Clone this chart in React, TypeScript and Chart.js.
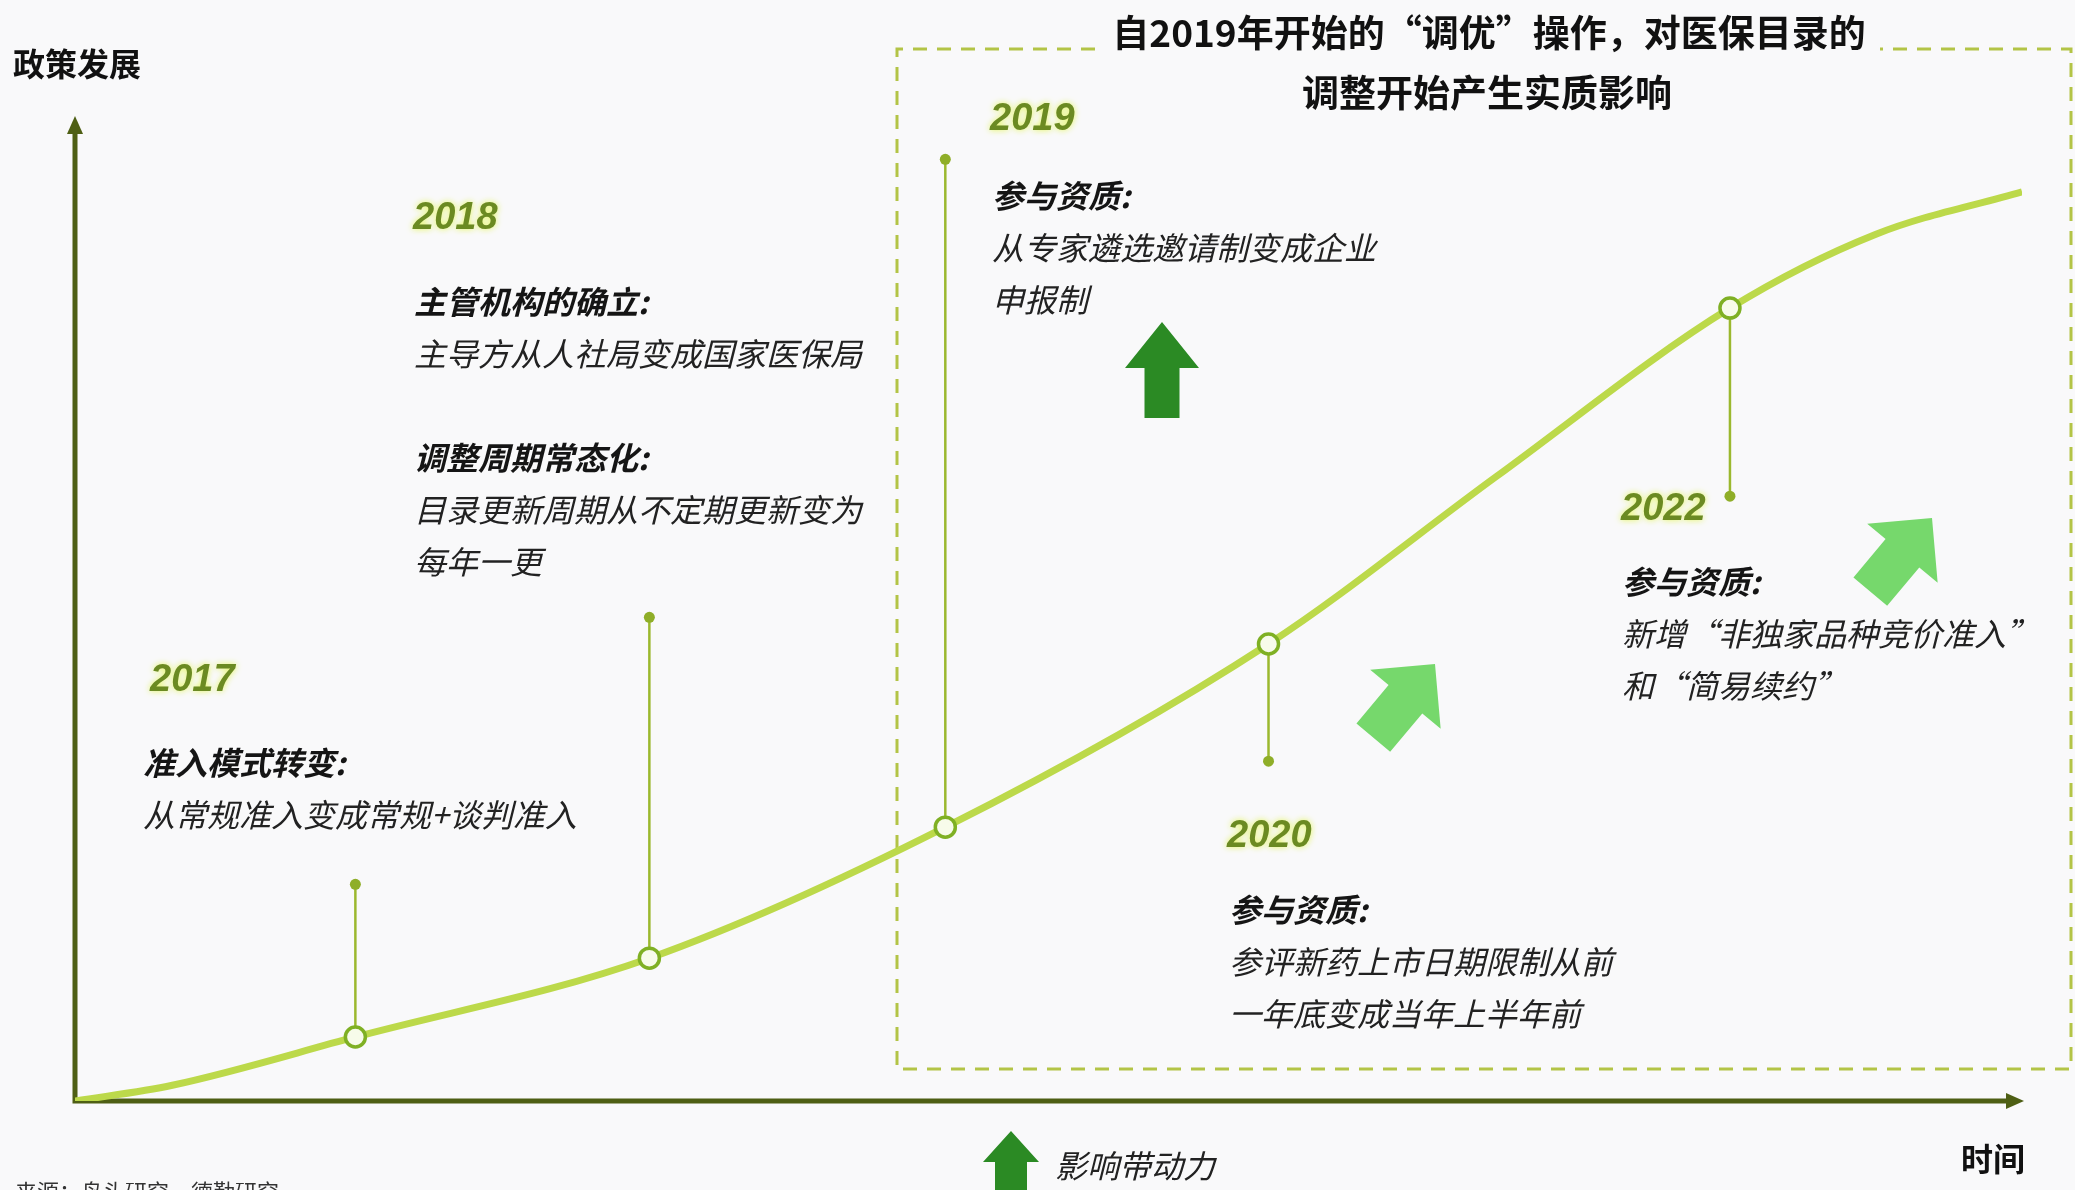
import { useEffect, useRef } from 'react';
import { Chart, registerables } from 'chart.js';

Chart.register(...registerables);

const W = 2075;
const H = 1190;

// Policy-development curve: time index (0-100) vs development index (0-100)
const curveX = [0, 5.0, 14.4, 29.5, 44.7, 61.3, 73.0, 85.0, 92.5, 100];
const curveY = [0, 1.6, 6.5, 14.5, 27.8, 46.4, 63.4, 80.5, 88.0, 92.3];

// Milestones
const eventYears = ['2017', '2018', '2019', '2020', '2022'];
const eventIndex = [2, 3, 4, 5, 7];
const stemEndY = [22.0, 49.1, 95.6, 34.5, 61.4];

const eventHeadings = [
  ['准入模式转变:'],
  ['主管机构的确立:', '调整周期常态化:'],
  ['参与资质:'],
  ['参与资质:'],
  ['参与资质:'],
];
const eventBodies = [
  [['从常规准入变成常规+谈判准入']],
  [['主导方从人社局变成国家医保局'], ['目录更新周期从不定期更新变为', '每年一更']],
  [['从专家遴选邀请制变成企业', '申报制']],
  [['参评新药上市日期限制从前', '一年底变成当年上半年前']],
  [['新增“非独家品种竞价准入”', '和“简易续约”']],
];

const yAxisTitle = '政策发展';
const xAxisTitle = '时间';
const boxTitle = ['自2019年开始的“调优”操作，对医保目录的', '调整开始产生实质影响'];
const legendLabel = '影响带动力';
const sourceNote = '来源：鸟头研究，德勤研究';

const CJK = "'Noto Sans CJK SC', 'Noto Sans', sans-serif";

function drawArrow(
  ctx: CanvasRenderingContext2D,
  tipX: number,
  tipY: number,
  angleDeg: number,
  total: number,
  headL: number,
  headW: number,
  shaftW: number,
  color: string
) {
  ctx.save();
  ctx.translate(tipX, tipY);
  ctx.rotate((angleDeg * Math.PI) / 180);
  ctx.beginPath();
  ctx.moveTo(0, 0);
  ctx.lineTo(headW / 2, headL);
  ctx.lineTo(shaftW / 2, headL);
  ctx.lineTo(shaftW / 2, total);
  ctx.lineTo(-shaftW / 2, total);
  ctx.lineTo(-shaftW / 2, headL);
  ctx.lineTo(-headW / 2, headL);
  ctx.closePath();
  ctx.fillStyle = color;
  ctx.fill();
  ctx.restore();
}

const decorPlugin = {
  id: 'decor',
  beforeDraw(chart: any) {
    const ctx: CanvasRenderingContext2D = chart.ctx;
    const a = chart.chartArea;
    ctx.save();
    ctx.fillStyle = '#f9f9fa';
    ctx.fillRect(0, 0, chart.width, chart.height);

    // dashed region box
    ctx.strokeStyle = '#b3c446';
    ctx.lineWidth = 3;
    ctx.setLineDash([14, 10]);
    const bl = 897, bt = 49, br = 2071, bb = 1069;
    ctx.beginPath();
    ctx.moveTo(1095, bt);
    ctx.lineTo(bl, bt);
    ctx.lineTo(bl, bb);
    ctx.lineTo(br, bb);
    ctx.lineTo(br, bt);
    ctx.lineTo(1880, bt);
    ctx.stroke();
    ctx.setLineDash([]);

    // axes
    ctx.strokeStyle = '#4e5f14';
    ctx.fillStyle = '#4e5f14';
    ctx.lineWidth = 5;
    ctx.beginPath();
    ctx.moveTo(a.left, a.top + 14);
    ctx.lineTo(a.left, a.bottom);
    ctx.lineTo(a.right - 14, a.bottom);
    ctx.stroke();
    ctx.beginPath();
    ctx.moveTo(a.left, a.top);
    ctx.lineTo(a.left - 8, a.top + 18);
    ctx.lineTo(a.left + 8, a.top + 18);
    ctx.closePath();
    ctx.fill();
    ctx.beginPath();
    ctx.moveTo(a.right + 2, a.bottom);
    ctx.lineTo(a.right - 16, a.bottom - 8);
    ctx.lineTo(a.right - 16, a.bottom + 8);
    ctx.closePath();
    ctx.fill();
    ctx.restore();
  },
  afterDatasetsDraw(chart: any) {
    const ctx: CanvasRenderingContext2D = chart.ctx;
    ctx.save();
    ctx.textBaseline = 'middle';

    // axis titles
    ctx.fillStyle = '#111';
    ctx.font = `bold 32px ${CJK}`;
    ctx.textAlign = 'left';
    ctx.fillText(yAxisTitle, 13, 64);
    ctx.textAlign = 'right';
    ctx.fillText(xAxisTitle, 2025, 1159);

    // box title
    ctx.textAlign = 'center';
    ctx.font = `bold 37px ${CJK}`;
    ctx.fillText(boxTitle[0], 1489, 33);
    ctx.fillText(boxTitle[1], 1487, 93);

    // milestone texts
    const layout = [
      { yx: 150, yy: 681, tx: 143, hy: 763 },
      { yx: 413, yy: 219, tx: 414, hy: 302 },
      { yx: 990, yy: 120, tx: 992, hy: 196 },
      { yx: 1227, yy: 837, tx: 1229, hy: 910 },
      { yx: 1621, yy: 510, tx: 1622, hy: 582 },
    ];
    ctx.textAlign = 'left';
    eventYears.forEach((yr, i) => {
      const L = layout[i];
      ctx.save();
      ctx.font = "italic bold 38px 'Liberation Sans', sans-serif";
      ctx.fillStyle = '#6b8a22';
      ctx.shadowColor = 'rgba(225,245,80,0.95)';
      ctx.shadowBlur = 6;
      ctx.fillText(yr, L.yx, L.yy);
      ctx.restore();
      let y = L.hy;
      eventHeadings[i].forEach((h, k) => {
        ctx.font = `italic bold 32px ${CJK}`;
        ctx.fillStyle = '#151515';
        ctx.fillText(h, L.tx, y);
        y += 52;
        ctx.font = `italic 32px ${CJK}`;
        ctx.fillStyle = '#222';
        eventBodies[i][k].forEach((line) => {
          ctx.fillText(line, L.tx, y);
          y += 52;
        });
        y += 52;
      });
    });

    // arrows
    drawArrow(ctx, 1162, 322, 0, 96, 46, 74, 35, '#2b8a24');
    drawArrow(ctx, 1011, 1131, 0, 70, 31, 56, 32, '#2b8a24');
    drawArrow(ctx, 1435, 664, 40, 96, 46, 92, 44, '#76d86c');
    drawArrow(ctx, 1932, 518, 40, 96, 46, 92, 44, '#76d86c');

    // legend label
    ctx.font = `italic 32px ${CJK}`;
    ctx.fillStyle = '#222';
    ctx.fillText(legendLabel, 1055, 1166);

    // source (cut off at bottom)
    ctx.font = `22px ${CJK}`;
    ctx.fillStyle = '#333';
    ctx.textBaseline = 'top';
    ctx.fillText(sourceNote, 15, 1181);
    ctx.restore();
  },
};

export default function App() {
  const ref = useRef<HTMLCanvasElement | null>(null);
  useEffect(() => {
    if (!ref.current) return;
    const curve = curveX.map((x, i) => ({ x, y: curveY[i] }));
    const markers = eventIndex.map((idx) => ({ x: curveX[idx], y: curveY[idx] }));
    const stems = eventIndex.map((idx, i) => ({
      type: 'line' as const,
      data: [
        { x: curveX[idx], y: curveY[idx] },
        { x: curveX[idx], y: stemEndY[i] },
      ],
      borderColor: '#9bb82e',
      borderWidth: 2.5,
      pointRadius: [0, 5.5],
      pointBackgroundColor: '#8fae28',
      pointBorderWidth: 0,
      tension: 0,
    }));
    const chart = new Chart(ref.current, {
      type: 'line',
      data: {
        datasets: [
          {
            data: markers,
            showLine: false,
            pointRadius: 10,
            pointBorderWidth: 3.5,
            pointBackgroundColor: '#f7fbea',
            pointBorderColor: '#7fb024',
          },
          {
            data: curve,
            borderColor: '#bcd94a',
            borderWidth: 7,
            pointRadius: 0,
            cubicInterpolationMode: 'monotone',
          },
          ...stems,
        ] as any,
      },
      options: {
        responsive: false,
        animation: false,
        devicePixelRatio: 1,
        layout: { padding: { left: 75, right: 53, top: 116, bottom: 89 } },
        plugins: { legend: { display: false }, tooltip: { enabled: false } },
        scales: {
          x: { type: 'linear', min: 0, max: 100, display: false },
          y: { type: 'linear', min: 0, max: 100, display: false },
        },
      },
      plugins: [decorPlugin],
    });
    return () => chart.destroy();
  }, []);
  return (
    <div style={{ position: 'fixed', left: 0, top: 0, width: W, height: H, overflow: 'hidden' }}>
      <canvas ref={ref} width={W} height={H} style={{ display: 'block' }} />
    </div>
  );
}
